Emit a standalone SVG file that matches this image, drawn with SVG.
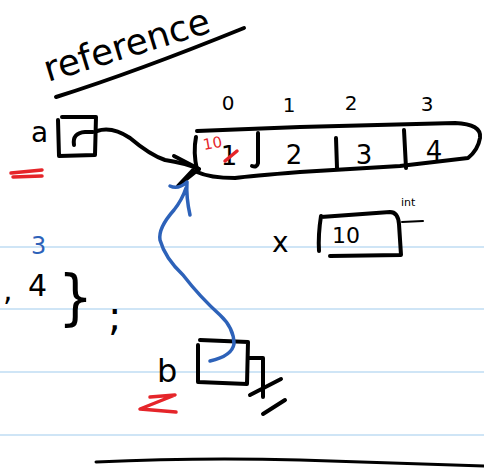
<svg xmlns="http://www.w3.org/2000/svg" width="484" height="474" viewBox="0 0 484 474">
<style>
.rule{stroke:#cfe5f6;stroke-width:2;fill:none}
.ink{stroke:#000;stroke-width:4;fill:none;stroke-linecap:round;stroke-linejoin:round}
.blue{stroke:#2d62b9;stroke-width:3.5;fill:none;stroke-linecap:round;stroke-linejoin:round}
.red{stroke:#e5252a;stroke-width:3.5;fill:none;stroke-linecap:round;stroke-linejoin:round}
.t{font-family:"DejaVu Sans",sans-serif;fill:#000}
.tb{font-family:"DejaVu Sans",sans-serif;fill:#2d62b9}
.tr{font-family:"DejaVu Sans",sans-serif;fill:#e5252a}
</style>
<rect width="484" height="474" fill="#fff"/>
<g id="ruling">
<line class="rule" x1="0" y1="247" x2="484" y2="247"/>
<line class="rule" x1="0" y1="309" x2="484" y2="309"/>
<line class="rule" x1="0" y1="372" x2="484" y2="372"/>
<line class="rule" x1="0" y1="435" x2="484" y2="435"/>
</g>
<g id="title">
<text class="t" x="0" y="0" font-size="36" transform="translate(48,82) rotate(-17)">reference</text>
<path class="ink" d="M56,97 C110,80 170,58 244,28"/>
</g>
<g id="array">
<path class="ink" d="M197,131 L300,127 L455,123 Q482,124 480,138 Q478,150 468,158 L400,166 L300,172 Q250,176 235,178 Q210,178 197,172"/>
<path class="ink" d="M196,137 Q193,152 197,170"/>
<path class="ink" d="M258,133 L258,163 Q257,168 252,166"/>
<path class="ink" d="M336,138 L337,168"/>
<path class="ink" d="M404,130 L406,168"/>
<text class="t" font-size="20" x="228" y="110" text-anchor="middle">0</text>
<text class="t" font-size="20" x="289" y="112" text-anchor="middle">1</text>
<text class="t" font-size="20" x="351" y="110" text-anchor="middle">2</text>
<text class="t" font-size="20" x="427" y="111" text-anchor="middle">3</text>
<text class="t" font-size="26" x="229" y="165" text-anchor="middle">1</text>
<text class="t" font-size="26" x="294" y="164" text-anchor="middle">2</text>
<text class="t" font-size="26" x="364" y="164" text-anchor="middle">3</text>
<text class="t" font-size="26" x="434" y="160" text-anchor="middle">4</text>
<path class="red" d="M225,161 L237,151"/>
<text class="tr" font-size="15" x="0" y="0" transform="translate(204,150) rotate(-10)">10</text>
</g>
<g id="a">
<text class="t" font-size="28" x="31" y="142">a</text>
<path class="ink" d="M58,120 L59,156 L95,155 L96,117 L62,117"/>
<path class="ink" d="M74,145 Q72,133 85,132 L93,132"/>
<path class="red" d="M11,173 L42,170 M13,177 L42,176"/>
</g>
<g id="x">
<text class="t" font-size="28" x="272" y="252">x</text>
<path class="ink" d="M321,216 Q318,235 319,251 M321,217 L390,212 Q398,212 399,224 L401,255 L330,256"/>
<text class="t" font-size="22" x="332" y="243">10</text>
<text class="t" font-size="11" x="401" y="206">int</text>
<path class="ink" style="stroke-width:2" d="M402,222 L423,221"/>
</g>
<g id="left">
<text class="tb" font-size="24" x="31" y="254">3</text>
<text class="t" font-size="30" x="3" y="300">,</text>
<text class="t" font-size="30" x="28" y="296">4</text>
<text class="t" font-size="50" x="0" y="0" transform="translate(58,318) scale(1.1,1.2)">}</text>
<text class="t" font-size="40" x="108" y="330">;</text>
</g>
<g id="b">
<text class="t" font-size="32" x="157" y="382">b</text>
<path class="ink" d="M198,345 L198,382 L247,384 L248,342 L200,340"/>
<path class="ink" d="M248,358 L263,358 L263,397 M250,395 L281,379 M263,414 L285,400"/>
<path class="red" d="M150,397 L175,395 L140,409 L176,412"/>
</g>
<g id="connectors">
<path class="ink" d="M97,131 Q112,126 130,138 Q150,155 165,160 Q185,163 199,169"/>
<path class="ink" d="M174,156 L199,169 L184,181 M193,170 L178,186"/>
<path class="blue" d="M210,361 Q232,356 234,344 Q234,328 220,315 Q200,297 183,275 Q165,258 160,240 Q158,228 174,210 Q182,200 186,188 M187,182 Q178,190 170,186 M187,182 Q186,197 190,215"/>
</g>
<path class="ink" style="stroke-width:3" d="M96,462 Q200,457 300,460 Q400,463 484,466"/>
</svg>
